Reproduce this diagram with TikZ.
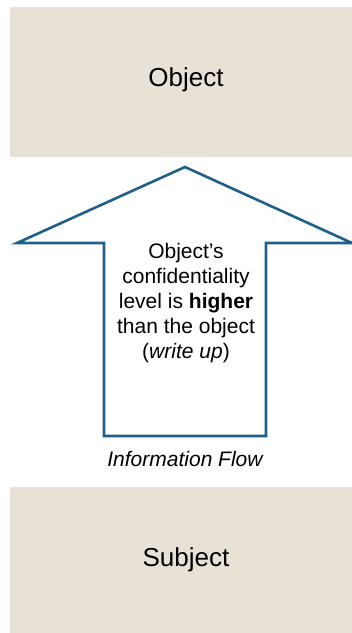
\documentclass[tikz,border=0pt]{standalone}
\usepackage{fontspec}
\setmainfont{Liberation Sans}
\definecolor{boxfill}{HTML}{E8E2D6}
\definecolor{arrowblue}{HTML}{1F5F8B}
\begin{document}
\begin{tikzpicture}[x=1pt,y=-1pt,
  box/.style={fill=boxfill,draw=none},
  lbl/.style={font=\fontsize{26}{30}\selectfont,inner sep=0pt},
  small/.style={font=\fontsize{21}{25}\selectfont,inner sep=0pt,align=center}]
\useasboundingbox (0,0) rectangle (352,633);
\fill[box] (10,7) rectangle (352,157);
\node[lbl] (obj) at (186,80) {Object};
\fill[box] (10,487) rectangle (352,633);
\node[lbl] (subj) at (186,560) {Subject};
\draw[arrowblue,line width=2.6pt,line join=miter] (185,167) -- (352,243) -- (266,243) -- (266,436) -- (104,436) -- (104,243) -- (17,243) -- cycle;
\node[small] (txt) at (186,303) {Object’s\\confidentiality\\level is \textbf{higher}\\than the object\\(\textit{write up})};
\node[small,font=\fontsize{21}{25}\selectfont\itshape] (flow) at (185,459) {Information Flow};
\end{tikzpicture}
\end{document}
